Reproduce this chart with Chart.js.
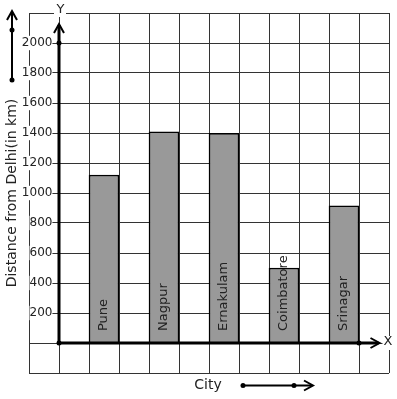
<!DOCTYPE html>
<html><head><meta charset="utf-8">
<script src="https://cdn.jsdelivr.net/npm/chart.js@4/dist/chart.umd.min.js"></script>
<style>html,body{margin:0;padding:0;background:#fff}#wrap{width:397px;height:399px;position:relative}</style>
</head><body><div id="wrap"><canvas id="c"></canvas></div>
<script>
// ---- data ----
const cities = ['Pune', 'Nagpur', 'Ernakulam', 'Coimbatore', 'Srinagar'];
const distances = [1120, 1408, 1398, 500, 915];
const yTickLabels = [200, 400, 600, 800, 1000, 1200, 1400, 1600, 1800, 2000];
const yTitle = 'Distance from Delhi(in km)';
const xTitle = 'City';
const xAxisLetter = 'X';
const yAxisLetter = 'Y';

// each city occupies every second grid column, starting one and a half columns right of the Y axis
const points = cities.map((c, i) => ({ x: 1.5 + 2 * i, y: distances[i] }));

Chart.defaults.font.family = 'DejaVu Sans';
const INK = '#222';
const GRID = '#333';

function chevron(ctx, tx, ty, dir, len, half) {
  ctx.beginPath();
  if (dir === 'up') { ctx.moveTo(tx - half, ty + len); ctx.lineTo(tx, ty); ctx.lineTo(tx + half, ty + len); }
  else { ctx.moveTo(tx - len, ty - half); ctx.lineTo(tx, ty); ctx.lineTo(tx - len, ty + half); }
  ctx.stroke();
}
function dot(ctx, x, y, r) { ctx.beginPath(); ctx.arc(x, y, r, 0, Math.PI * 2); ctx.fill(); }

const decor = {
  id: 'decor',
  afterDraw(chart) {
    const ctx = chart.ctx, xs = chart.scales.x, ys = chart.scales.y, a = chart.chartArea;
    const ox = xs.getPixelForValue(0), oy = ys.getPixelForValue(0);
    ctx.save();
    ctx.strokeStyle = '#000'; ctx.fillStyle = '#000'; ctx.lineCap = 'butt';
    // thick axes
    const yTip = a.top + 11, xTip = a.right - 9.5;
    ctx.lineWidth = 3;
    ctx.beginPath(); ctx.moveTo(ox, oy); ctx.lineTo(ox, yTip + 1); ctx.stroke();
    ctx.beginPath(); ctx.moveTo(ox, oy); ctx.lineTo(xTip - 1, oy); ctx.stroke();
    ctx.lineWidth = 2;
    chevron(ctx, ox, yTip, 'up', 9, 5);
    chevron(ctx, xTip, oy, 'right', 9, 5);
    dot(ctx, ox, oy, 2.5);
    dot(ctx, ox, ys.getPixelForValue(2000), 2.5);
    dot(ctx, xs.getPixelForValue(10), oy, 2.5);
    // axis letters
    ctx.font = '13px DejaVu Sans';
    ctx.textAlign = 'center'; ctx.textBaseline = 'middle';
    ctx.fillStyle = '#fff';
    ctx.fillRect(ox - 5, 3, 12, 14);
    ctx.fillRect(xTip + 3, oy - 7, 11, 14);
    ctx.fillStyle = INK;
    ctx.fillText(yAxisLetter, ox + 1.5, 10);
    ctx.fillText(xAxisLetter, xTip + 8.5, oy - 1);
    // axis titles
    ctx.font = '14px DejaVu Sans';
    ctx.fillText(xTitle, (a.left + a.right) / 2 - 1, 385);
    ctx.save();
    ctx.translate(12, (a.top + a.bottom) / 2);
    ctx.rotate(-Math.PI / 2);
    ctx.fillText(yTitle, 0, 0);
    ctx.restore();
    // decorative direction arrows
    ctx.fillStyle = '#000'; ctx.strokeStyle = '#000'; ctx.lineWidth = 2;
    ctx.beginPath(); ctx.moveTo(12, 80); ctx.lineTo(12, 12); ctx.stroke();
    chevron(ctx, 12, 11, 'up', 9, 5);
    dot(ctx, 12, 80, 2.5); dot(ctx, 12, 30, 2.5);
    ctx.beginPath(); ctx.moveTo(243, 385.5); ctx.lineTo(312, 385.5); ctx.stroke();
    chevron(ctx, 313, 385.5, 'right', 9, 5);
    dot(ctx, 243, 385.5, 2.5); dot(ctx, 294, 385.5, 2.5);
    // bar labels
    const meta = chart.getDatasetMeta(0);
    ctx.font = '13px DejaVu Sans';
    ctx.fillStyle = INK; ctx.textAlign = 'left'; ctx.textBaseline = 'middle';
    meta.data.forEach((bar, i) => {
      ctx.save();
      ctx.translate(bar.x - 0.5, bar.base - 11.5);
      ctx.rotate(-Math.PI / 2);
      ctx.fillText(cities[i], 0, 0);
      ctx.restore();
    });
    ctx.restore();
  }
};

new Chart(document.getElementById('c'), {
  type: 'bar',
  data: {
    datasets: [{
      data: points,
      backgroundColor: '#999999',
      borderColor: '#000',
      borderWidth: 1.5,
      barPercentage: 1,
      categoryPercentage: 1
    }]
  },
  options: {
    responsive: true,
    maintainAspectRatio: false,
    animation: false,
    layout: { padding: { left: 29, top: 13, right: 8, bottom: 26 } },
    plugins: { legend: { display: false }, tooltip: { enabled: false } },
    scales: {
      x: {
        type: 'linear',
        position: 'bottom',
        offset: false,
        min: -1, max: 11,
        ticks: { stepSize: 1, display: false },
        grid: { color: GRID, lineWidth: 1, drawTicks: false, offset: false },
        border: { display: false }
      },
      y: {
        type: 'linear',
        position: { x: -0.22 },
        min: -200, max: 2200,
        ticks: {
          stepSize: 200,
          color: INK,
          font: { size: 12 },
          z: 1,
          showLabelBackdrop: true,
          backdropColor: '#fff',
          backdropPadding: 0,
          callback: v => yTickLabels.includes(v) ? String(v) : ''
        },
        grid: { color: GRID, lineWidth: 1, drawTicks: false },
        border: { display: false }
      }
    }
  },
  plugins: [decor]
});
</script>
</body></html>
